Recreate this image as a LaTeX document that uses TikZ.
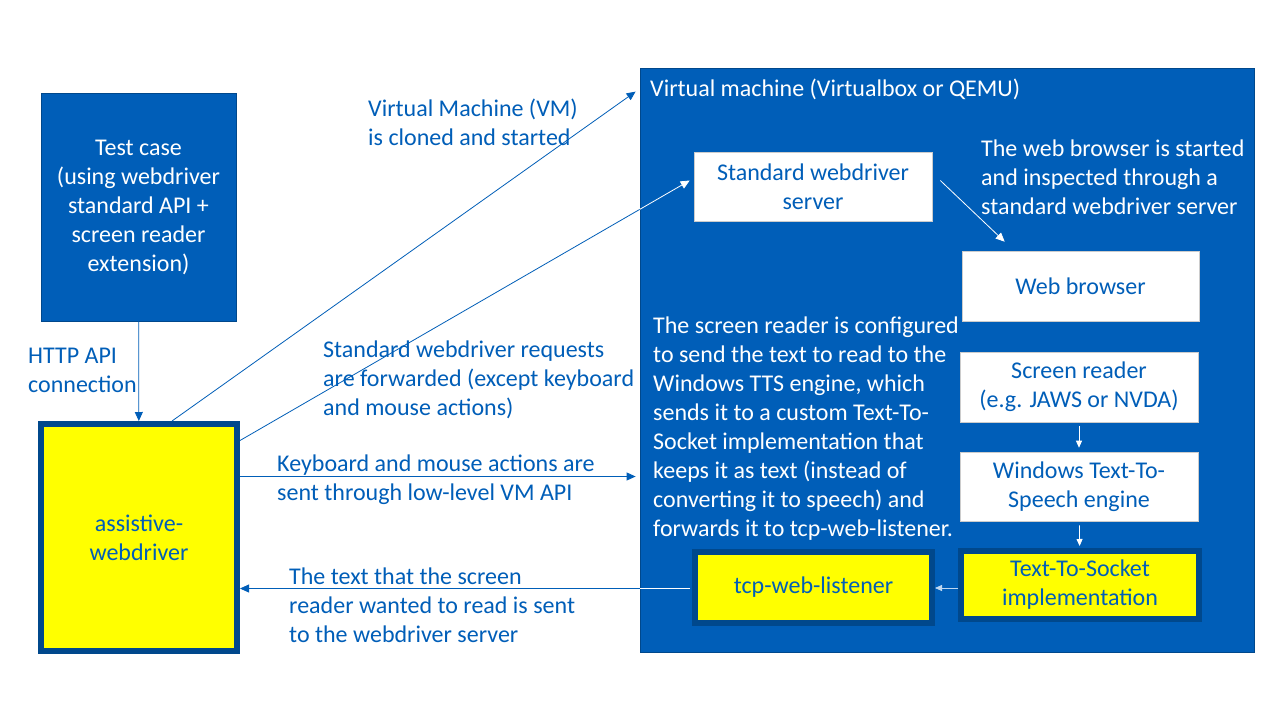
\documentclass[tikz,border=0pt]{standalone}
\usepackage{fontspec}
\setmainfont{Carlito}
\usetikzlibrary{arrows.meta,calc}
\definecolor{vmblue}{RGB}{0,94,184}
\definecolor{navy}{RGB}{0,72,140}
\definecolor{hiyellow}{RGB}{255,255,0}
\definecolor{paleblue}{RGB}{190,215,240}

\begin{document}
\begin{tikzpicture} [ x=1pt, y=-1pt,
		      every node/.style={font=\fontsize{24}{29}\selectfont, align=center},
		      bluebox/.style={draw=navy, fill=vmblue, text=white, line width=0.8pt},
		      whitebox/.style={draw=gray!40, fill=white, text=vmblue, line width=0.6pt},
		      yellowbox/.style={draw=navy, fill=hiyellow, text=vmblue, line width=6pt},
		      note/.style={anchor=north west, align=left, inner sep=0pt, text=vmblue},
		      wnote/.style={note, text=white},
		      link/.style={draw=vmblue, line width=0.8pt, -{Triangle[length=9pt,width=8pt]}},
		      wlink/.style={link, draw=white},
		      slink/.style={wlink, -{Triangle[length=7pt,width=6pt]}}
		    ]

  \fill[white] (0,0) rectangle (1280,720);

  % left side
  \node[bluebox, minimum width=195pt, minimum height=228pt] (test) at (138.5,207) {Test case\\(using webdriver\\standard API +\\screen reader\\extension)};
  \node[yellowbox, minimum width=196pt, minimum height=227pt] (awd) at (139,537.5) {assistive-\\webdriver};

  % virtual machine
  \node[bluebox, minimum width=614pt, minimum height=584pt] (vm) at (947,360) {};
  \node[wnote] (vmtitle) at (650,79) {Virtual machine (Virtualbox or QEMU)};
  \node[whitebox, minimum width=238pt, minimum height=69pt] (std) at (813,186.5) {Standard webdriver\\server};
  \node[whitebox, minimum width=237pt, minimum height=70pt] (web) at (1080.5,286) {Web browser};
  \node[whitebox, minimum width=238pt, minimum height=70pt] (sr) at (1079,387) {Screen reader\\(e.g. JAWS or NVDA)};
  \node[whitebox, minimum width=238pt, minimum height=69pt] (tts) at (1079,486.5) {Windows Text-To-\\Speech engine};
  \node[yellowbox, minimum width=238pt, minimum height=68pt] (sock) at (1080,585) {Text-To-Socket\\implementation};
  \node[yellowbox, minimum width=237pt, minimum height=71pt] (tcp) at (813.5,587.5) {tcp-web-listener};

  % connections
  \draw[link] (test) -- (awd);
  \draw[link] ([xshift=33pt]awd.north) -- ([xshift=-4pt,yshift=-24pt]vm.north west);
  \coordinate (reqa) at ([yshift=97pt]awd.east);
  \coordinate (reqb) at ([xshift=-4pt,yshift=6pt]std.west);
  \coordinate (reqm) at ($(reqa)!0.889!(reqb)$);
  \draw[vmblue, line width=0.8pt] (reqa) -- (reqm);
  \draw[wlink] (reqm) -- (reqb);
  \coordinate (kb) at ([yshift=61pt]awd.east);
  \draw[link] (kb) -- ([xshift=-4pt]vm.west |- kb);
  \draw[wlink] ([xshift=8pt,yshift=6pt]std.east) -- ([xshift=43pt,yshift=9pt]web.north west);
  \draw[slink, shorten <=4pt, shorten >=4pt] (sr) -- (tts);
  \draw[slink, shorten <=4pt, shorten >=2pt] (tts) -- (sock);
  \draw[slink, draw=paleblue] ([yshift=-3pt]sock.west) -- (tcp.east |- 0,588);
  \coordinate (back) at ([xshift=-2pt,yshift=-1pt]tcp.west);
  \draw[white, line width=0.8pt] (back) -- (vm.west |- back);
  \draw[link] (vm.west |- back) -- (awd.east |- back);

  % labels
  \node[note] (httplbl) at (28,348) {HTTP API\\connection};
  \node[note] (clonelbl) at (368,99) {Virtual Machine (VM)\\is cloned and started};
  \node[note] (reqlbl) at (323,341) {Standard webdriver requests\\are forwarded (except keyboard\\and mouse actions)};
  \node[note] (kblbl) at (277,455) {Keyboard and mouse actions are\\sent through low-level VM API};
  \node[note] (backlbl) at (289,568) {The text that the screen\\reader wanted to read is sent\\to the webdriver server};
  \node[wnote] (weblbl) at (981,140) {The web browser is started\\and inspected through a\\standard webdriver server};
  \node[wnote] (srlbl) at (653,317) {The screen reader is configured\\to send the text to read to the\\Windows TTS engine, which\\sends it to a custom Text-To-\\Socket implementation that\\keeps it as text (instead of\\converting it to speech) and\\forwards it to tcp-web-listener.};
\end{tikzpicture}
\end{document}
